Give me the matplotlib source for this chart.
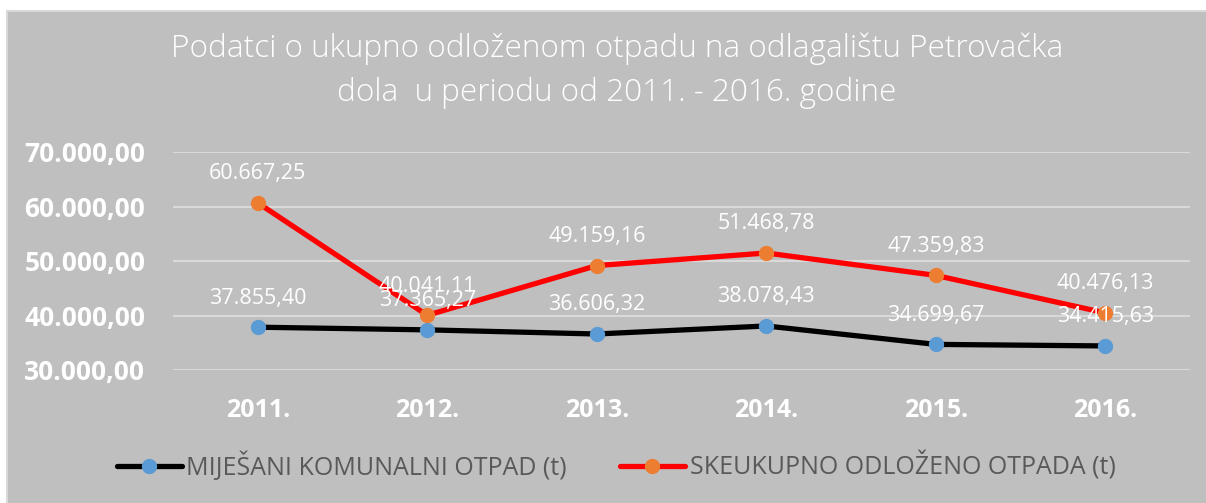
import matplotlib
matplotlib.use('Agg')
import matplotlib.pyplot as plt
from matplotlib.patches import Rectangle

plt.rcParams['font.family'] = ['Open Sans', 'DejaVu Sans']

years = ['2011.', '2012.', '2013.', '2014.', '2015.', '2016.']
mijesani = [37855.40, 37365.27, 36606.32, 38078.43, 34699.67, 34415.63]
ukupno = [60667.25, 40041.11, 49159.16, 51468.78, 47359.83, 40476.13]
y_ticks = [30000, 40000, 50000, 60000, 70000]

title = 'Podatci o ukupno odloženom otpadu na odlagalištu Petrovačka\ndola  u periodu od 2011. - 2016. godine'
label_mijesani = 'MIJEŠANI KOMUNALNI OTPAD (t)'
label_ukupno = 'SKEUKUPNO ODLOŽENO OTPADA (t)'


def hr_format(v):
    # croatian number style: 12.345,67
    s = f'{v:,.2f}'
    return s.replace(',', 'X').replace('.', ',').replace('X', '.')


W, H = 1206, 503
fig = plt.figure(figsize=(W / 100, H / 100), dpi=100)
fig.patch.set_facecolor('white')

# gray chart area with light border
bg = Rectangle((7 / W, -0.01), 1.01 - 7 / W, 1.01 - 11 / H, transform=fig.transFigure,
               facecolor='#BFBFBF', edgecolor='#D9D9D9', linewidth=1.5, zorder=-5)
fig.patches.append(bg)

ax = fig.add_axes([173 / W, 1 - 370 / H, (1190 - 173) / W, (370 - 152) / H])
ax.set_facecolor('none')

x = list(range(len(years)))
ax.plot(x, mijesani, color='black', linewidth=3.8, marker='o', markersize=10,
        markerfacecolor='#5B9BD5', markeredgecolor='#5B9BD5',
        label=label_mijesani, zorder=3, solid_capstyle='round')
ax.plot(x, ukupno, color='#FF0000', linewidth=3.8, marker='o', markersize=10,
        markerfacecolor='#ED7D31', markeredgecolor='#ED7D31',
        label=label_ukupno, zorder=3, solid_capstyle='round')

for xi, v in zip(x, mijesani):
    ax.annotate(hr_format(v), (xi, v), xytext=(0, 17), textcoords='offset points',
                ha='center', va='baseline', color='white', fontsize=15.5, zorder=5)
for xi, v in zip(x, ukupno):
    ax.annotate(hr_format(v), (xi, v), xytext=(0, 17), textcoords='offset points',
                ha='center', va='baseline', color='white', fontsize=15.5, zorder=5)

ax.set_xlim(-0.5, len(years) - 0.5)
ax.set_ylim(30000, 70000)
ax.set_yticks(y_ticks)
ax.set_yticklabels([hr_format(v) for v in y_ticks], fontsize=19,
                   fontweight='bold', color='white')
ax.set_xticks(x)
ax.set_xticklabels(years, fontsize=18, fontweight='bold', color='white')
ax.tick_params(axis='y', length=0, pad=20)
ax.tick_params(axis='x', length=0, pad=20)
ax.grid(axis='y', color='#D9D9D9', linewidth=1.5, zorder=1)
ax.set_axisbelow(True)
for s in ax.spines.values():
    s.set_visible(False)

fig.text(617 / W, 1 - 71 / H, title, ha='center', va='center', color='white',
         fontsize=22.7, fontweight='light', linespacing=1.5)

leg = fig.legend(loc='center', bbox_to_anchor=(616 / W, 1 - 466 / H), ncol=2,
                 frameon=False, fontsize=18, handlelength=2.6,
                 handletextpad=0.2, columnspacing=2.1, labelcolor='#595959')

fig.savefig('out.png', dpi=100, facecolor=fig.get_facecolor())
